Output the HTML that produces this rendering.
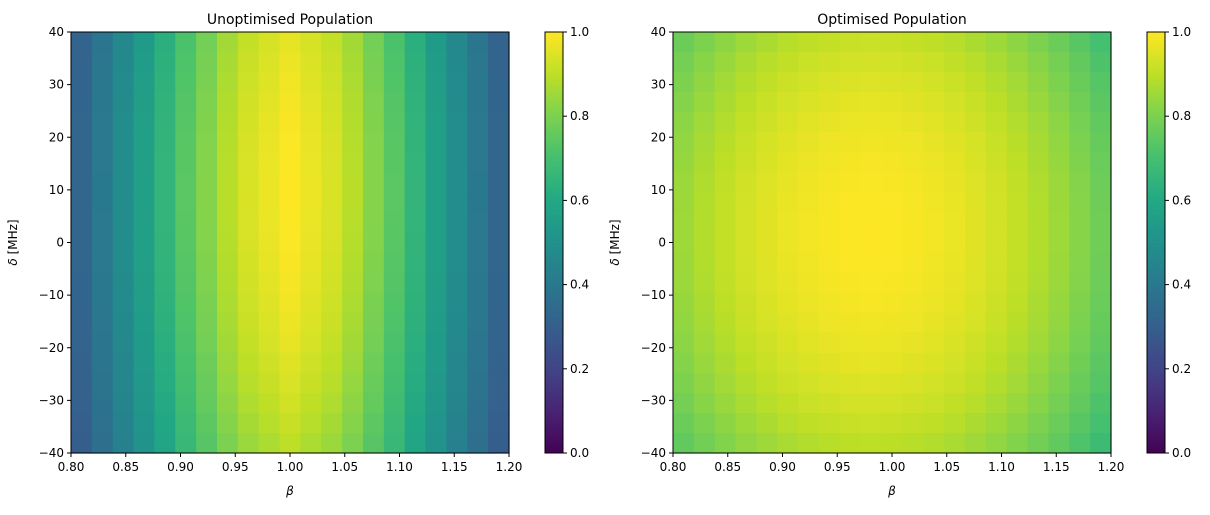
<!DOCTYPE html>
<html><head><meta charset="utf-8">
<style>
body{margin:0;background:#fff;width:1210px;height:511px;overflow:hidden;font-family:"DejaVu Sans","Liberation Sans",sans-serif;}
svg text{font-family:"DejaVu Sans","Liberation Sans",sans-serif;font-size:12px;fill:#000}
</style></head><body>
<svg id="s" width="1210" height="511" xmlns="http://www.w3.org/2000/svg"></svg>
<script>
const S=document.getElementById('s');
const stops=["#440154","#482475","#414487","#355f8d","#2a788e","#21918c","#22a884","#44bf70","#7ad151","#bddf26","#fde725"].map(h=>[parseInt(h.slice(1,3),16),parseInt(h.slice(3,5),16),parseInt(h.slice(5,7),16)]);
function vir(t){t=Math.max(0,Math.min(1,t));let x=t*10,i=Math.min(9,Math.floor(x)),f=x-i;const a=stops[i],b=stops[i+1];return `rgb(${Math.round(a[0]+(b[0]-a[0])*f)},${Math.round(a[1]+(b[1]-a[1])*f)},${Math.round(a[2]+(b[2]-a[2])*f)})`;}
let h='';
function interp(d){const xs=[0,.05,.1,.15,.2,.25],ys=[1,.93,.74,.52,.33,.2];d=Math.abs(d);for(let i=0;i<5;i++)if(d<=xs[i+1]){const f=(d-xs[i])/(xs[i+1]-xs[i]);return ys[i]+(ys[i+1]-ys[i])*f;}return .2;}
function f1(b,dl){return interp(b-1.0)*(1-0.00004*(dl-10)*(dl-10));}
function f2(b,dl){const u=(b-0.98)/0.2,v=(dl-2)/40;return 1-0.18*u*u-0.09*v*v;}
function panel(x0,fn,title,cbx){
 const W=438,H=421,y0=32,n=21;
 for(let i=0;i<n;i++)for(let j=0;j<n;j++){
  const b=0.8+0.4*i/(n-1), dl=40-80*j/(n-1);
  const xa=x0+W*i/n, ya=y0+H*j/n;
  h+=`<rect x="${xa.toFixed(2)}" y="${ya.toFixed(2)}" width="${(W/n+0.6).toFixed(2)}" height="${(H/n+0.6).toFixed(2)}" fill="${vir(fn(b,dl))}"/>`;
 }
 h+=`<rect x="${x0}" y="${y0}" width="${W}" height="${H}" fill="none" stroke="#000" stroke-width="1"/>`;
 h+=`<text x="${x0+W/2}" y="${y0-8}" text-anchor="middle" style="font-size:14px">${title}</text>`;
 for(let k=0;k<9;k++){const x=x0+W*k/8;h+=`<line x1="${x}" y1="${y0+H}" x2="${x}" y2="${y0+H+4}" stroke="#000"/><text x="${x}" y="${y0+H+18}" text-anchor="middle">${(0.8+0.05*k).toFixed(2)}</text>`;}
 for(let k=0;k<9;k++){const y=y0+H*k/8,v=40-10*k;h+=`<line x1="${x0-4}" y1="${y}" x2="${x0}" y2="${y}" stroke="#000"/><text x="${x0-7}" y="${y+4}" text-anchor="end">${v<0?'\u2212'+(-v):v}</text>`;}
 h+=`<text x="${x0+W/2}" y="${y0+H+42}" text-anchor="middle" font-style="italic">β</text>`;
 h+=`<text transform="translate(${x0-54},${y0+H/2}) rotate(-90)" text-anchor="middle"><tspan font-style="italic">δ</tspan> [MHz]</text>`;
 const cw=18;
 for(let k=0;k<200;k++){const y=y0+H-H*(k+1)/200;h+=`<rect x="${cbx}" y="${y.toFixed(2)}" width="${cw}" height="${(H/200+0.5).toFixed(2)}" fill="${vir((k+0.5)/200)}"/>`;}
 h+=`<rect x="${cbx}" y="${y0}" width="${cw}" height="${H}" fill="none" stroke="#000"/>`;
 for(let k=0;k<6;k++){const y=y0+H-H*k/5;h+=`<line x1="${cbx+cw}" y1="${y}" x2="${cbx+cw+4}" y2="${y}" stroke="#000"/><text x="${cbx+cw+7}" y="${y+4}">${(k/5).toFixed(1)}</text>`;}
}
panel(71,f1,'Unoptimised Population',545);
panel(673,f2,'Optimised Population',1147);
S.innerHTML=h;
</script>
</body></html>
